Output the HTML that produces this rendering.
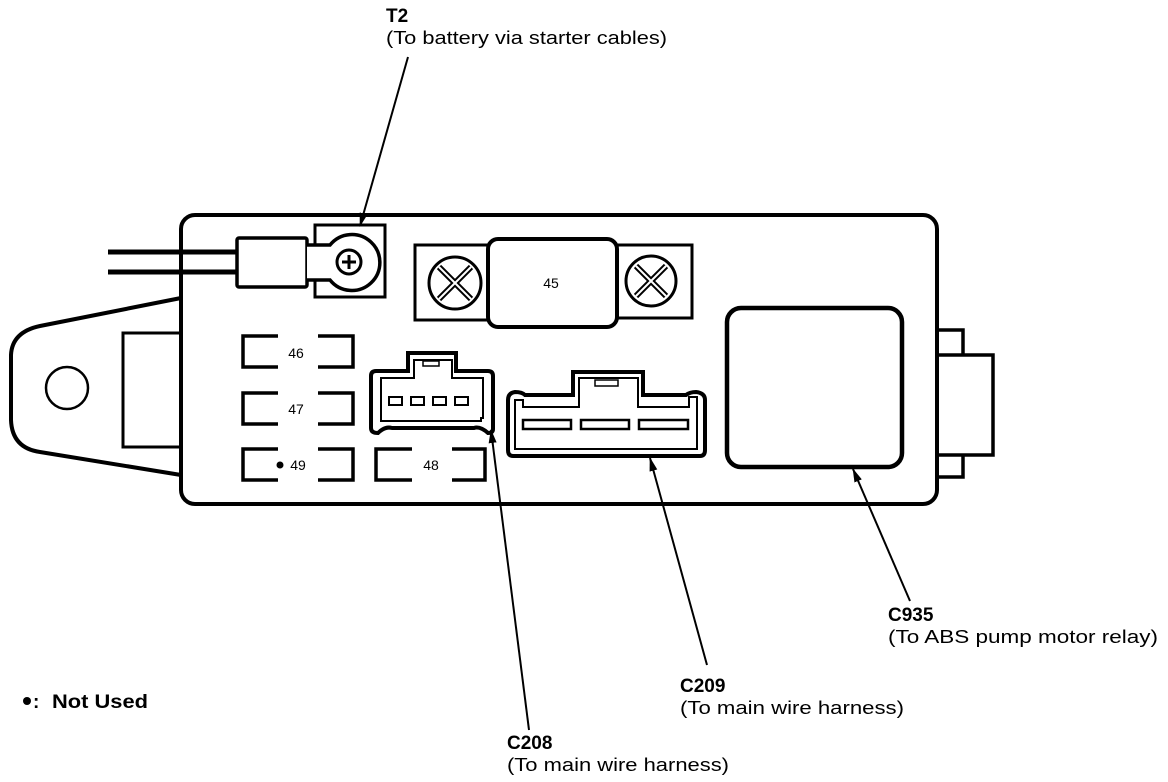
<!DOCTYPE html>
<html><head><meta charset="utf-8"><style>
html,body{margin:0;padding:0;background:#fff;}
svg{display:block;}
text{font-family:"Liberation Sans",sans-serif;fill:#000;}
.b{font-weight:bold;font-size:19px;}
.n{font-size:18px;}
.s{font-size:14px;}
</style></head><body>
<svg width="1168" height="782" viewBox="0 0 1168 782" xmlns="http://www.w3.org/2000/svg">
<defs><marker id="a" markerWidth="14" markerHeight="10" refX="13" refY="5" orient="auto" markerUnits="userSpaceOnUse"><path d="M0,1 L14,5 L0,9 z" fill="#000"/></marker></defs>
<g fill="none" stroke="#000" stroke-width="4">
<path d="M181,298 L40,326 Q12,332 11,355 L11,420 Q12,448 40,452 L181,475"/>
<rect x="123" y="333" width="58" height="114" stroke-width="3"/>
<circle cx="67" cy="388" r="21" stroke-width="2.5"/>
<rect x="181" y="215" width="756" height="289" rx="14"/>
<line x1="108" y1="252" x2="237" y2="252" stroke-width="5"/>
<line x1="108" y1="272" x2="237" y2="272" stroke-width="5"/>
<rect x="237" y="238" width="70" height="49" rx="2" stroke-width="3.5"/>
<rect x="315" y="225" width="70" height="72" stroke-width="3"/>
<path d="M307,245 L330,245 A28,28 0 1 1 330,280 L307,280" stroke-width="3.5" fill="#fff"/>
<circle cx="349" cy="262" r="12" stroke-width="3"/>
<path d="M342,262 h14 M349,255 v14" stroke-width="3"/>
<rect x="415" y="245" width="75" height="75" stroke-width="3"/>
<circle cx="455" cy="283" r="26" stroke-width="3"/>
<path d="M439,267 L471,299 M471,267 L439,299" stroke-width="6"/>
<path d="M439,267 L471,299 M471,267 L439,299" stroke="#fff" stroke-width="2"/>
<rect x="617" y="245" width="75" height="73" stroke-width="3"/>
<circle cx="651" cy="281" r="25" stroke-width="3"/>
<path d="M636,266 L666,296 M666,266 L636,296" stroke-width="6"/>
<path d="M636,266 L666,296 M666,266 L636,296" stroke="#fff" stroke-width="2"/>
<rect x="488" y="239" width="129" height="88" rx="10" fill="#fff" stroke-width="4"/>
<rect x="727" y="308" width="175" height="159" rx="14" stroke-width="4.5"/>
<path d="M937,330 H963 V355 M937,477 H963 V455" stroke-width="3.5"/>
<rect x="937" y="355" width="56" height="100" stroke-width="3.5"/>
<g stroke-width="3.5">
<path d="M278,336 H243 V367 H278 M318,336 H353 V367 H318"/>
<path d="M278,393 H243 V424 H278 M318,393 H353 V424 H318"/>
<path d="M278,449 H243 V480 H278 M318,449 H353 V480 H318"/>
<path d="M412,449 H376 V480 H412 M452,449 H485 V480 H452"/>
</g>
<path d="M408,353 H456 V371 H488 Q493,371 493,376 V429 Q493,433 488,433 Q480,426 474,428 H392 Q385,426 378,433 Q371,433 371,428 V376 Q371,371 376,371 H408 Z" stroke-width="4"/>
<path d="M414,360 H452 V378 H483 V418 H481 V421 H381 V378 H414 Z" stroke-width="2"/>
<rect x="423" y="361" width="16" height="5" stroke-width="1.5"/>
<g stroke-width="2"><rect x="389" y="397" width="13" height="8"/><rect x="411" y="397" width="13" height="8"/><rect x="433" y="397" width="13" height="8"/><rect x="455" y="397" width="13" height="8"/></g>
<path d="M573,372 H643 V395 H686 Q690,392 696,392 Q705,393 705,400 V450 Q705,456 700,456 H513 Q508,456 508,450 V400 Q508,393 515,392 Q522,392 525,395 H573 Z" stroke-width="4"/>
<path d="M579,378 H638 V407 H689 V397 H697 V449 H515 V400 H523 V407 H579 Z" stroke-width="2"/>
<rect x="595" y="380" width="23" height="6" stroke-width="1.5"/>
<g stroke-width="2.5"><rect x="523" y="420" width="48" height="9"/><rect x="581" y="420" width="48" height="9"/><rect x="639" y="420" width="49" height="9"/></g>
<g stroke-width="2">
<line x1="408" y1="57" x2="360" y2="226" marker-end="url(#a)"/>
<line x1="529" y1="730" x2="491" y2="430" marker-end="url(#a)"/>
<line x1="707" y1="665" x2="650" y2="458" marker-end="url(#a)"/>
<line x1="910" y1="601" x2="853" y2="469" marker-end="url(#a)"/>
</g>
</g>
<text class="s" x="296" y="358" text-anchor="middle">46</text>
<text class="s" x="296" y="414" text-anchor="middle">47</text>
<circle cx="280" cy="465" r="3.5" fill="#000"/>
<text class="s" x="298" y="470" text-anchor="middle">49</text>
<text class="s" x="431" y="470" text-anchor="middle">48</text>
<text class="s" x="551" y="288" text-anchor="middle">45</text>
<text class="b" x="386" y="22">T2</text>
<text class="n" x="386" y="44" textLength="281" lengthAdjust="spacingAndGlyphs">(To battery via starter cables)</text>
<text class="b" x="888" y="621">C935</text>
<text class="n" x="888" y="643" textLength="270" lengthAdjust="spacingAndGlyphs">(To ABS pump motor relay)</text>
<text class="b" x="680" y="692">C209</text>
<text class="n" x="680" y="714" textLength="224" lengthAdjust="spacingAndGlyphs">(To main wire harness)</text>
<text class="b" x="507" y="749">C208</text>
<text class="n" x="507" y="771" textLength="222" lengthAdjust="spacingAndGlyphs">(To main wire harness)</text>
<circle cx="27" cy="701" r="4" fill="#000"/>
<text class="b" x="33" y="708">:</text>
<text class="b" x="52" y="708" textLength="96" lengthAdjust="spacingAndGlyphs">Not Used</text>
</svg>
</body></html>
